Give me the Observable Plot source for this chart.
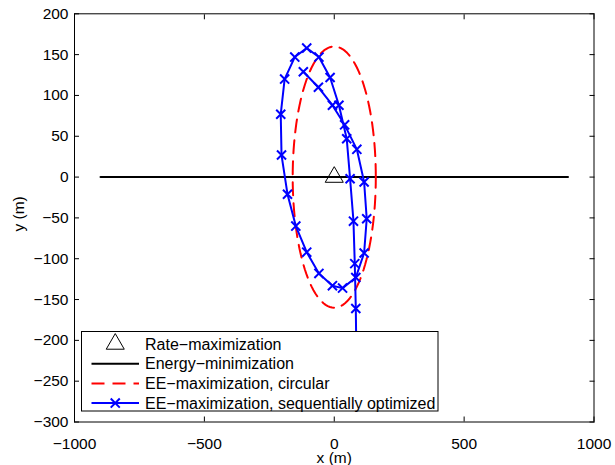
<!DOCTYPE html>
<html>
<head>
<meta charset="utf-8">
<script src="https://cdn.jsdelivr.net/npm/d3@7"></script>
<script src="https://cdn.jsdelivr.net/npm/@observablehq/plot@0.6"></script>
<style>
  body { margin: 0; background: #fff; font-family: "Liberation Sans", Arial, Helvetica, sans-serif; overflow: hidden; }
  #wrap { position: relative; width: 615px; height: 465px; }
  #legend { position: absolute; left: 81px; top: 331px; }
</style>
</head>
<body>
<div id="wrap"></div>
<script>
// ---- data ----
const xTicks = [-1000, -500, 0, 500, 1000];
const yTicks = [200, 150, 100, 50, 0, -50, -100, -150, -200, -250, -300];

// Rate-maximization (single point)
const rateX = [0];
const rateY = [0];

// Energy-minimization (straight line)
const energyX = [-900, 900];
const energyY = [0, 0];

// EE-maximization, circular (center and radius, in m)
const circleCenter = [0, 0];
const circleRadius = [160];

// EE-maximization, sequentially optimized
const seqX = [85, 83, 79, 74, 61, 48, 18, -16, -59, -106, -152, -191, -206, -203, -180, -148, -106, -59, -7, 32, 83, 115, 125, 115, 87, 40, -7, -61, -119];
const seqY = [-215, -161, -106, -54, -2, 47, 88, 122, 147, 158, 147, 120, 77, 27, -21, -60, -92, -118, -133, -136, -123, -93, -51, -6, 34, 64, 88, 110, 129];

const legendLabels = [
  "Rate\u2212maximization",
  "Energy\u2212minimization",
  "EE\u2212maximization, circular",
  "EE\u2212maximization, sequentially optimized"
];

// ---- tables ----
const rate = rateX.map((x, i) => ({x, y: rateY[i]}));
const energy = energyX.map((x, i) => ({x, y: energyY[i]}));
const circle = d3.range(0, 361, 3).map(a => ({
  x: circleCenter[0] + circleRadius[0] * Math.cos(a * Math.PI / 180),
  y: circleCenter[1] + circleRadius[0] * Math.sin(a * Math.PI / 180)
}));
const seq = seqX.map((x, i) => ({x, y: seqY[i]}));

const font = '"Liberation Sans", Arial, Helvetica, sans-serif';
const fs = 15.5;
const fmt = d3.format("d");

const chart = Plot.plot({
  width: 615,
  height: 465,
  marginLeft: 74,
  marginRight: 21.5,
  marginTop: 13.3,
  marginBottom: 43.5,
  x: {domain: [-1000, 1000]},
  y: {domain: [-300, 200]},
  style: {fontFamily: font, fontSize: fs + "px", color: "#000", background: "#fff"},
  marks: [
    Plot.dot(rate, {x: "x", y: "y", symbol: "triangle", r: 6.7, stroke: "#000", strokeWidth: 1, fill: "none"}),
    Plot.line(energy, {x: "x", y: "y", stroke: "#000", strokeWidth: 2}),
    Plot.line(circle, {x: "x", y: "y", stroke: "#ff0000", strokeWidth: 2, strokeDasharray: "13,8"}),
    Plot.line(seq, {x: "x", y: "y", stroke: "#0000ff", strokeWidth: 2, strokeLinejoin: "round"}),
    Plot.dot(seq, {x: "x", y: "y", symbol: "times", r: 4.2, stroke: "#0000ff", strokeWidth: 2}),
    Plot.frame({stroke: "#000", strokeWidth: 1}),
    Plot.axisX(xTicks, {anchor: "bottom", tickSize: 5, dy: -5, tickFormat: () => "", label: null}),
    Plot.axisX(xTicks, {anchor: "top", tickSize: 5, dy: 5, tickFormat: () => "", label: null}),
    Plot.axisX(xTicks, {anchor: "bottom", tickSize: 0, tickPadding: 15.5, tickFormat: fmt, fontSize: fs, label: null}),
    Plot.axisY(yTicks, {anchor: "left", tickSize: 5, dx: 5, tickFormat: () => "", label: null}),
    Plot.axisY(yTicks, {anchor: "right", tickSize: 5, dx: -5, tickFormat: () => "", label: null}),
    Plot.axisY(yTicks, {anchor: "left", tickSize: 0, tickPadding: 6, tickFormat: fmt, fontSize: fs, label: null}),
    Plot.text(["x (m)"], {frameAnchor: "bottom", lineAnchor: "middle", textAnchor: "middle", dy: 36, text: d => d, fontSize: fs}),
    Plot.text(["y (m)"], {frameAnchor: "left", lineAnchor: "middle", textAnchor: "middle", dx: -55, dy: -4, rotate: -90, text: d => d, fontSize: fs})
  ]
});

const wrap = document.getElementById("wrap");
wrap.appendChild(chart);

// ---- legend (inside the axes, lower left) ----
const lw = 358, lh = 81;
const leg = d3.select(wrap).append("svg")
  .attr("id", "legend")
  .attr("width", lw).attr("height", lh)
  .style("font-family", font);
leg.append("rect").attr("x", 0.5).attr("y", 0.5).attr("width", lw - 1.5).attr("height", lh - 1.5)
  .attr("fill", "#fff").attr("stroke", "#000").attr("stroke-width", 1);
const rowY = i => 13 + 19.7 * i;
const sx0 = 10.5, sx1 = 58, sxm = (sx0 + sx1) / 2;
legendLabels.forEach((lab, i) => {
  const y = rowY(i);
  if (i === 0) {
    leg.append("path").attr("d", d3.symbol(d3.symbolTriangle, 6.7 * 6.7 * Math.PI)())
      .attr("transform", `translate(${sxm},${y})`).attr("fill", "none").attr("stroke", "#000").attr("stroke-width", 1);
  } else {
    const color = i === 1 ? "#000" : i === 2 ? "#ff0000" : "#0000ff";
    const ln = leg.append("line").attr("x1", sx0).attr("x2", sx1).attr("y1", y).attr("y2", y)
      .attr("stroke", color).attr("stroke-width", 2);
    if (i === 2) ln.attr("stroke-dasharray", "13,8");
    if (i === 3) {
      leg.append("path").attr("d", d3.symbol(d3.symbolTimes, 4.2 * 4.2 * Math.PI)())
        .attr("transform", `translate(${sxm},${y})`).attr("fill", "none").attr("stroke", color).attr("stroke-width", 2);
    }
  }
  leg.append("text").attr("x", 64).attr("y", y + 5.7).attr("font-size", 16).attr("fill", "#000").text(lab);
});
</script>
</body>
</html>
